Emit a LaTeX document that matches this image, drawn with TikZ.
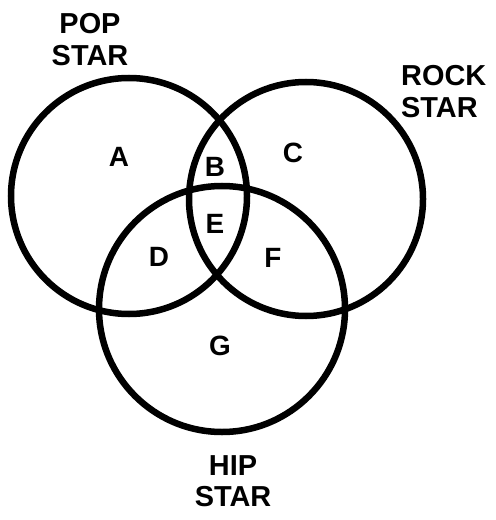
\documentclass[tikz,border=0pt]{standalone}
\usepackage{fontspec}
\setmainfont{Liberation Sans}
\usepackage{tikz}
\tikzset{
  ring/.style={line width=6.5bp},
  setname/.style={inner sep=0pt,font=\fontsize{29}{32}\selectfont\bfseries},
  region/.style={inner sep=0pt,font=\fontsize{28}{32}\selectfont\bfseries}
}

\begin{document}
\begin{tikzpicture}[x=1bp,y=-1bp]
  \useasboundingbox (0,0) rectangle (496,520);
  % the three sets
  \draw[ring] (129,196) circle (118);
  \draw[ring] (306,199) circle (117);
  \draw[ring] (222,309) circle (123);
  % set names
  \node[setname,anchor=north,align=center] (pop) at (90,13) {POP\\STAR};
  \node[setname,anchor=north west,align=left] (rock) at (401,65) {ROCK\\STAR};
  \node[setname,anchor=north,align=center] (hip) at (233,455) {HIP\\STAR};
  % regions
  \node[region] (a) at (119,157) {A};
  \node[region] (b) at (215,167) {B};
  \node[region] (c) at (293,153) {C};
  \node[region] (d) at (159,257) {D};
  \node[region] (e) at (215,224) {E};
  \node[region] (f) at (273,258) {F};
  \node[region] (g) at (220,346) {G};
\end{tikzpicture}
\end{document}
